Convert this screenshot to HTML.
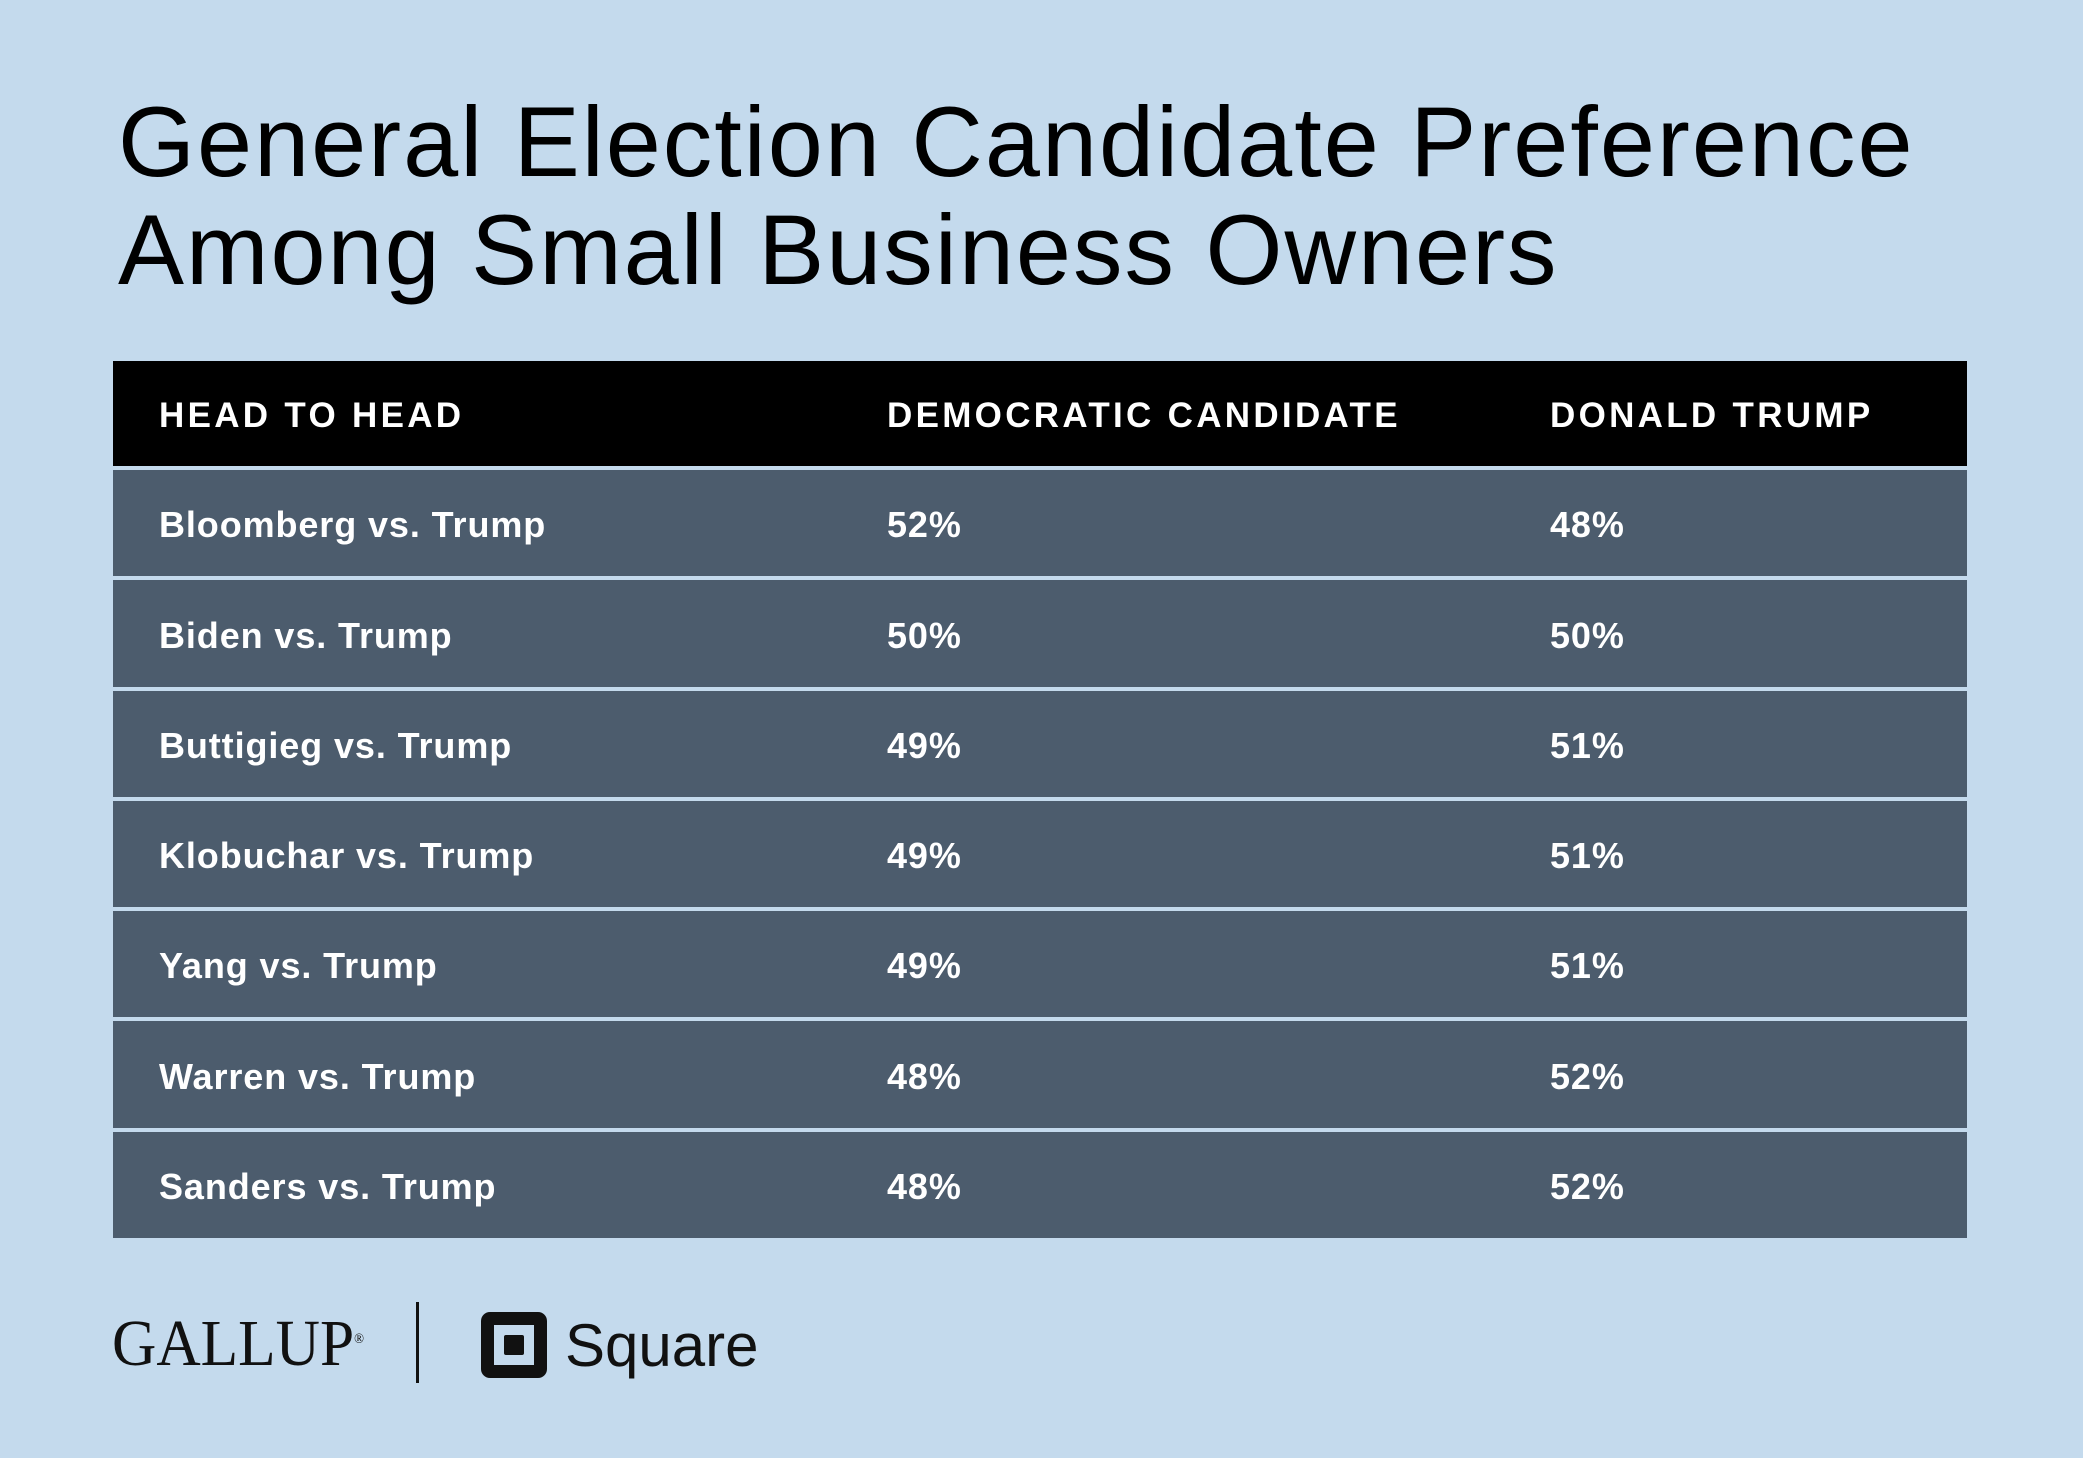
<!DOCTYPE html>
<html><head><meta charset="utf-8"><style>
body{margin:0;width:2083px;height:1458px;background:#c4daed;overflow:hidden;position:relative;font-family:"Liberation Sans",sans-serif}
.title{position:absolute;left:118px;top:88px;font-size:99px;line-height:108px;color:#000;letter-spacing:2px}
#tbl{position:absolute;left:113px;top:361px;width:1854px}
.hdr{height:105px;background:#000;position:relative;color:#fff;font-weight:bold;font-size:35px;letter-spacing:3.3px}
.row{height:106.3px;background:#4c5c6d;margin-top:4px;position:relative;color:#fff;font-weight:bold;font-size:36px;letter-spacing:0.9px}
.c{position:absolute;top:52%;transform:translateY(-50%);white-space:nowrap}
</style></head><body>
<div class="title">General Election Candidate Preference<br>Among Small Business Owners</div>
<div id="tbl">
<div class="hdr">
<span class="c" style="left:46px">HEAD TO HEAD</span>
<span class="c" style="left:774px">DEMOCRATIC CANDIDATE</span>
<span class="c" style="left:1437px">DONALD TRUMP</span>
</div>
</div>
<div style="position:absolute;left:112px;top:1306px;font-family:'Liberation Serif',serif;font-size:66px;line-height:76px;transform:scaleX(0.93);transform-origin:left;color:#111">GALLUP<sup style="font-size:14px;vertical-align:top;position:relative;top:-4px">®</sup></div>
<div style="position:absolute;left:416px;top:1302px;width:3px;height:81px;background:#111"></div>
<div style="position:absolute;left:481px;top:1312px;width:40px;height:40px;border:13px solid #111;border-radius:9px;box-sizing:content-box"><div style="position:absolute;left:10px;top:10px;width:20px;height:20px;background:#111;border-radius:2px"></div></div>
<div style="position:absolute;left:565px;top:1308px;font-size:60px;line-height:76px;color:#111">Square</div>
<script>
const matchups=["Bloomberg vs. Trump","Biden vs. Trump","Buttigieg vs. Trump","Klobuchar vs. Trump","Yang vs. Trump","Warren vs. Trump","Sanders vs. Trump"];
const demValues=[52,50,49,49,49,48,48];
const trumpValues=[48,50,51,51,51,52,52];
const tbl=document.getElementById('tbl');
matchups.forEach((m,i)=>{
const r=document.createElement('div');r.className='row';


const cells=[[m,46,'matchup-cell'],[demValues[i]+'%',774,'democratic-value'],[trumpValues[i]+'%',1437,'trump-value']];
cells.forEach(c=>{const s=document.createElement('span');s.className='c';s.style.left=c[1]+'px';s.textContent=c[0];


r.appendChild(s);});
tbl.appendChild(r);
});
</script>
</body></html>
